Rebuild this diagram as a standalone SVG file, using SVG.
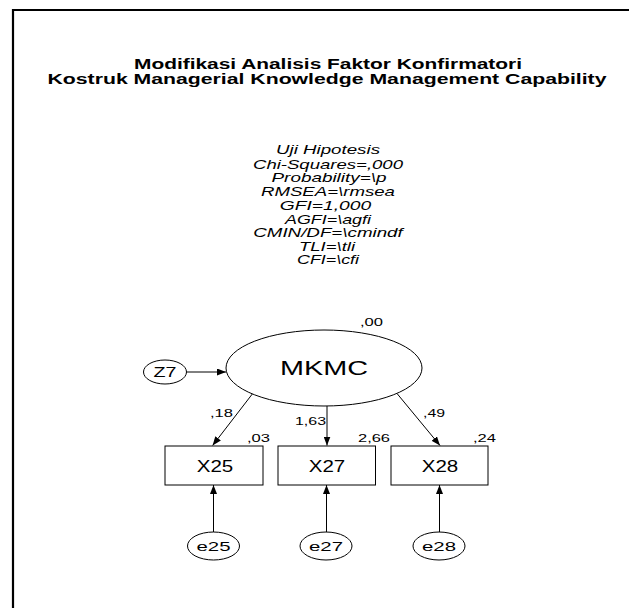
<svg xmlns="http://www.w3.org/2000/svg" width="629" height="608" viewBox="0 0 629 608">
  <style>
    text { font-family: "Liberation Sans", Arial, sans-serif; fill: #000; }
    .title { font-size: 14.5px; font-weight: bold; text-anchor: middle; }
    .stat { font-size: 12.2px; font-style: italic; text-anchor: middle; }
    .lbl { font-size: 11.5px; }
    .node { fill: #fff; stroke: #000; stroke-width: 1; }
    .nodetxt { text-anchor: middle; }
    .conn { stroke: #000; stroke-width: 1; fill: none; marker-end: url(#arrow); }
  </style>
  <defs>
    <marker id="arrow" markerUnits="userSpaceOnUse" viewBox="0 0 9 7" markerWidth="9" markerHeight="7" refX="9" refY="3.5" orient="auto">
      <path d="M0,0 L9,3.5 L0,7 z" fill="#000"/>
    </marker>
  </defs>

  <rect width="629" height="608" fill="#fff"/>

  <!-- page frame (top and left edges) -->
  <path d="M13,608 L13,10 L629,10" fill="none" stroke="#000" stroke-width="2.2"/>

  <!-- title -->
  <g id="title">
    <text class="title" x="328" y="69" textLength="388" lengthAdjust="spacingAndGlyphs">Modifikasi Analisis Faktor Konfirmatori</text>
    <text class="title" x="327" y="84" textLength="559" lengthAdjust="spacingAndGlyphs">Kostruk Managerial Knowledge Management Capability</text>
  </g>

  <!-- fit statistics -->
  <g id="fit-stats">
    <text class="stat" x="328" y="154" textLength="104" lengthAdjust="spacingAndGlyphs">Uji Hipotesis</text>
    <text class="stat" x="328" y="168.5" textLength="150" lengthAdjust="spacingAndGlyphs">Chi-Squares=,000</text>
    <text class="stat" x="329" y="182" textLength="115" lengthAdjust="spacingAndGlyphs">Probability=\p</text>
    <text class="stat" x="328" y="196" textLength="134" lengthAdjust="spacingAndGlyphs">RMSEA=\rmsea</text>
    <text class="stat" x="325.5" y="209.5" textLength="91.5" lengthAdjust="spacingAndGlyphs">GFI=1,000</text>
    <text class="stat" x="328" y="223.5" textLength="86" lengthAdjust="spacingAndGlyphs">AGFI=\agfi</text>
    <text class="stat" x="328" y="237" textLength="149.5" lengthAdjust="spacingAndGlyphs">CMIN/DF=\cmindf</text>
    <text class="stat" x="327" y="250.5" textLength="56" lengthAdjust="spacingAndGlyphs">TLI=\tli</text>
    <text class="stat" x="328" y="263.5" textLength="62" lengthAdjust="spacingAndGlyphs">CFI=\cfi</text>
  </g>

  <!-- connectors -->
  <g id="connectors">
    <line class="conn" x1="186.5" y1="372" x2="226" y2="372"/>
    <line class="conn" x1="252.3" y1="394" x2="212.6" y2="445.5"/>
    <line class="conn" x1="327" y1="406" x2="327" y2="445.5"/>
    <line class="conn" x1="397" y1="393.5" x2="440" y2="445.5"/>
    <line class="conn" x1="213.5" y1="532" x2="213.5" y2="485"/>
    <line class="conn" x1="326.5" y1="532" x2="326.5" y2="485"/>
    <line class="conn" x1="439.5" y1="532" x2="439.5" y2="485"/>
  </g>

  <!-- path coefficients and variances -->
  <g id="estimates">
    <text class="lbl" x="360" y="326" textLength="23" lengthAdjust="spacingAndGlyphs">,00</text>
    <text class="lbl" x="210" y="417" textLength="23" lengthAdjust="spacingAndGlyphs">,18</text>
    <text class="lbl" x="295" y="425" textLength="31" lengthAdjust="spacingAndGlyphs">1,63</text>
    <text class="lbl" x="423" y="417" textLength="22" lengthAdjust="spacingAndGlyphs">,49</text>
    <text class="lbl" x="247" y="442" textLength="23" lengthAdjust="spacingAndGlyphs">,03</text>
    <text class="lbl" x="358" y="442" textLength="32" lengthAdjust="spacingAndGlyphs">2,66</text>
    <text class="lbl" x="473" y="442" textLength="23" lengthAdjust="spacingAndGlyphs">,24</text>
  </g>

  <!-- latent construct -->
  <g id="MKMC">
    <ellipse class="node" cx="324" cy="368" rx="98" ry="38"/>
    <text class="nodetxt" x="324" y="375" font-size="20" textLength="88" lengthAdjust="spacingAndGlyphs">MKMC</text>
  </g>

  <g id="Z7">
    <ellipse class="node" cx="165" cy="372" rx="21.5" ry="12"/>
    <text class="nodetxt" x="165" y="377" font-size="14" textLength="23" lengthAdjust="spacingAndGlyphs">Z7</text>
  </g>

  <!-- indicators -->
  <g id="X25">
    <rect class="node" x="165" y="446" width="98" height="39"/>
    <text class="nodetxt" x="215" y="471.5" font-size="16" textLength="36.5" lengthAdjust="spacingAndGlyphs">X25</text>
  </g>
  <g id="X27">
    <rect class="node" x="278" y="446" width="97.5" height="39"/>
    <text class="nodetxt" x="327" y="471.5" font-size="16" textLength="36.5" lengthAdjust="spacingAndGlyphs">X27</text>
  </g>
  <g id="X28">
    <rect class="node" x="391" y="446" width="97" height="39"/>
    <text class="nodetxt" x="440" y="471.5" font-size="16" textLength="36.5" lengthAdjust="spacingAndGlyphs">X28</text>
  </g>

  <!-- error terms -->
  <g id="e25">
    <ellipse class="node" cx="213.5" cy="546" rx="26" ry="14"/>
    <text class="nodetxt" x="213.5" y="551" font-size="13.5" textLength="34" lengthAdjust="spacingAndGlyphs">e25</text>
  </g>
  <g id="e27">
    <ellipse class="node" cx="326" cy="546" rx="26" ry="14"/>
    <text class="nodetxt" x="326" y="551" font-size="13.5" textLength="34" lengthAdjust="spacingAndGlyphs">e27</text>
  </g>
  <g id="e28">
    <ellipse class="node" cx="439" cy="546" rx="26" ry="14"/>
    <text class="nodetxt" x="439" y="551" font-size="13.5" textLength="34" lengthAdjust="spacingAndGlyphs">e28</text>
  </g>
</svg>
